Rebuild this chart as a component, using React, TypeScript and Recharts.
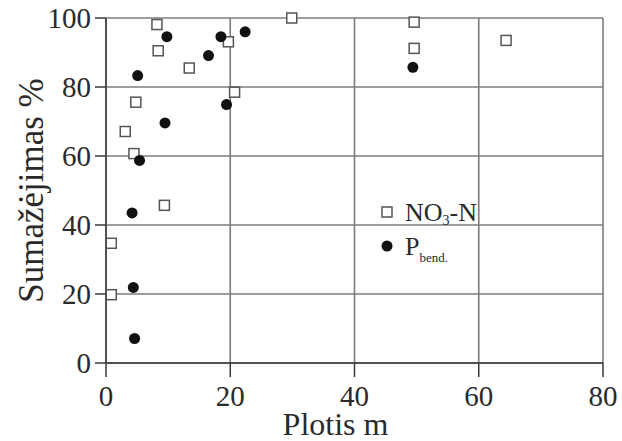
import React from "react";
import { ScatterChart, Scatter, XAxis, YAxis, CartesianGrid } from "recharts";

const xTicks = [0, 20, 40, 60, 80];
const yTicks = [0, 20, 40, 60, 80, 100];

const no3X = [8.2, 19.7, 8.4, 13.4, 20.7, 4.8, 3.1, 4.5, 9.4, 0.85, 0.85, 29.9, 49.6, 49.6, 64.4];
const no3Y = [98.1, 93.1, 90.5, 85.5, 78.5, 75.6, 67.1, 60.7, 45.7, 34.7, 19.8, 100, 98.8, 91.2, 93.5];

const pX = [9.8, 18.5, 22.4, 16.5, 5.1, 19.4, 9.5, 5.4, 4.2, 4.4, 4.6, 49.4];
const pY = [94.6, 94.6, 96, 89.1, 83.3, 74.9, 69.6, 58.7, 43.5, 21.9, 7.1, 85.7];

const no3Data = no3X.map((x, i) => ({ x, y: no3Y[i] }));
const pData = pX.map((x, i) => ({ x, y: pY[i] }));

const FONT = "'Liberation Serif', 'Times New Roman', serif";
const TEXT = "#2a2a2a";
const GRID = "#7c7c7c";
const AXIS = "#3a3a3a";

const Square = (props: any) => {
  const { cx, cy } = props;
  return <rect x={cx - 5} y={cy - 5} width={10} height={10} fill="#fff" stroke="#555" strokeWidth={1.5} />;
};

const Dot = (props: any) => {
  const { cx, cy } = props;
  return <circle cx={cx} cy={cy} r={5.5} fill="#111" />;
};

const rowStyle: React.CSSProperties = { display: "flex", alignItems: "center", height: 34 };

const LegendBox = () => (
  <div
    style={{
      position: "absolute",
      left: 378,
      top: 196,
      fontFamily: FONT,
      color: TEXT,
      fontSize: 26,
      lineHeight: "34px",
      pointerEvents: "none",
    }}
  >
    <div style={rowStyle}>
      <svg width={20} height={20} style={{ marginRight: 7 }}>
        <rect x={4} y={4} width={10} height={10} fill="#fff" stroke="#555" strokeWidth={1.5} />
      </svg>
      <span>
        NO<sub style={{ fontSize: 14, verticalAlign: "-4px", lineHeight: 0 }}>3</sub>-N
      </span>
    </div>
    <div style={rowStyle}>
      <svg width={20} height={20} style={{ marginRight: 7 }}>
        <circle cx={9} cy={9} r={5.5} fill="#111" />
      </svg>
      <span>
        P<sub style={{ fontSize: 13, verticalAlign: "-7px", lineHeight: 0 }}>bend.</sub>
      </span>
    </div>
  </div>
);

export default function App() {
  return (
    <div style={{ position: "absolute", left: 0, top: 0, width: 622, height: 441, background: "#fff" }}>
      <ScatterChart width={622} height={441} margin={{ top: 18, right: 19, bottom: 0, left: 0 }}>
        <CartesianGrid stroke={GRID} strokeWidth={1.6} />
        <XAxis
          type="number"
          dataKey="x"
          domain={[0, 80]}
          ticks={xTicks}
          interval={0}
          height={78}
          tickSize={14}
          tickMargin={8}
          stroke={AXIS}
          strokeWidth={1.5}
          tick={{ fontFamily: FONT, fontSize: 29, fill: TEXT }}
          tickLine={{ stroke: AXIS, strokeWidth: 1.5 }}
          label={{
            content: (p: any) => {
              const vb = p.viewBox;
              return (
                <text
                  x={vb.x + vb.width / 2 - 19}
                  y={vb.y + 72}
                  textAnchor="middle"
                  fontFamily={FONT}
                  fontSize={32}
                  fill={TEXT}
                >
                  Plotis m
                </text>
              );
            },
          }}
        />
        <YAxis
          type="number"
          dataKey="y"
          domain={[0, 100]}
          ticks={yTicks}
          interval={0}
          width={106}
          tickSize={11}
          tickMargin={4}
          stroke={AXIS}
          strokeWidth={1.5}
          tick={{ fontFamily: FONT, fontSize: 29, fill: TEXT }}
          tickLine={{ stroke: AXIS, strokeWidth: 1.5 }}
          label={{
            content: (p: any) => {
              const vb = p.viewBox;
              const cx = vb.x + 31;
              const cy = vb.y + vb.height / 2;
              return (
                <text
                  x={cx}
                  y={cy}
                  transform={`rotate(-90 ${cx} ${cy})`}
                  textAnchor="middle"
                  dominantBaseline="central"
                  fontFamily={FONT}
                  fontSize={35}
                  fill={TEXT}
                >
                  Sumažėjimas %
                </text>
              );
            },
          }}
        />
        <Scatter name="NO3-N" data={no3Data} shape={<Square />} isAnimationActive={false} />
        <Scatter name="Pbend." data={pData} shape={<Dot />} isAnimationActive={false} />
      </ScatterChart>
      <LegendBox />
    </div>
  );
}
